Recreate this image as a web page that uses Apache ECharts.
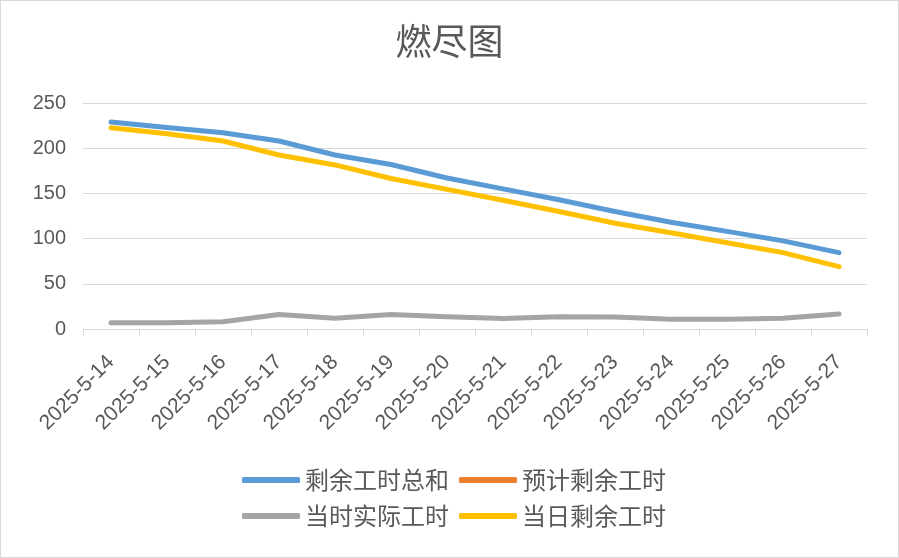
<!DOCTYPE html>
<html>
<head>
<meta charset="utf-8">
<script src="https://cdn.jsdelivr.net/npm/echarts@6/dist/echarts.min.js"></script>
<style>
html,body{margin:0;padding:0;background:#fff;}
#chart{width:899px;height:558px;box-sizing:border-box;border:1px solid #d9d9d9;}
</style>
</head>
<body>
<div id="chart"></div>
<script>
const titleText = '燃尽图';
const categories = ['2025-5-14','2025-5-15','2025-5-16','2025-5-17','2025-5-18','2025-5-19','2025-5-20','2025-5-21','2025-5-22','2025-5-23','2025-5-24','2025-5-25','2025-5-26','2025-5-27'];
const totalRemaining = [229, 223, 217, 208, 192.5, 182, 167, 155, 143, 130, 118, 108, 97.5, 84.5];
const plannedRemaining = [null, null, null, null, null, null, null, null, null, null, null, null, null, null];
const actualHours = [7, 7, 8, 16, 12, 16, 13.6, 11.5, 13.5, 13.3, 10.7, 10.7, 11.8, 16.6];
const dayRemaining = [222.5, 216, 208, 192.5, 181.5, 166.5, 154.5, 142.5, 130, 117, 106.5, 95.5, 84.5, 69];
const yTicks = {min: 0, max: 250, interval: 50};

const font = '"Noto Sans CJK SC", "Liberation Sans", sans-serif';
const chart = echarts.init(document.getElementById('chart'), null, {renderer: 'canvas'});
function line(name, data, color) {
  return {
    name, type: 'line', data, symbol: 'none', smooth: false,
    lineStyle: {width: 5, color: color, cap: 'round', join: 'round'},
    itemStyle: {color: color},
    connectNulls: false
  };
}
chart.setOption({
  animation: false,
  backgroundColor: '#fff',
  textStyle: {fontFamily: font},
  title: {
    text: titleText, left: 'center', top: 17,
    textStyle: {fontFamily: font, fontSize: 36, fontWeight: 'normal', color: '#595959'}
  },
  grid: {left: 82, right: 31, top: 102, bottom: 228, containLabel: false},
  xAxis: {
    type: 'category', data: categories, boundaryGap: true,
    axisLine: {lineStyle: {color: '#d9d9d9', width: 1}},
    axisTick: {show: true, interval: 0, length: 7, lineStyle: {color: '#d9d9d9'}},
    axisLabel: {interval: 0, rotate: 45, margin: 30, fontSize: 21, color: '#595959', fontFamily: '"Liberation Sans", sans-serif'}
  },
  yAxis: {
    type: 'value', min: yTicks.min, max: yTicks.max, interval: yTicks.interval,
    axisLine: {show: false}, axisTick: {show: false},
    splitLine: {lineStyle: {color: '#d9d9d9', width: 1}},
    axisLabel: {margin: 17, fontSize: 20, color: '#595959', fontFamily: '"Liberation Sans", sans-serif'}
  },
  legend: {
    left: 241, top: 466, orient: 'horizontal', padding: 0,
    data: ['剩余工时总和', '预计剩余工时', '', '当时实际工时', '当日剩余工时'],
    icon: 'roundRect', itemWidth: 58, itemHeight: 6, itemGap: 10,
    textStyle: {fontFamily: font, fontSize: 24, color: '#595959', lineHeight: 26}
  },
  series: [
    line('剩余工时总和', totalRemaining, '#5b9bd5'),
    line('预计剩余工时', plannedRemaining, '#ed7d31'),
    line('当时实际工时', actualHours, '#a5a5a5'),
    line('当日剩余工时', dayRemaining, '#ffc000')
  ]
});
</script>
</body>
</html>
